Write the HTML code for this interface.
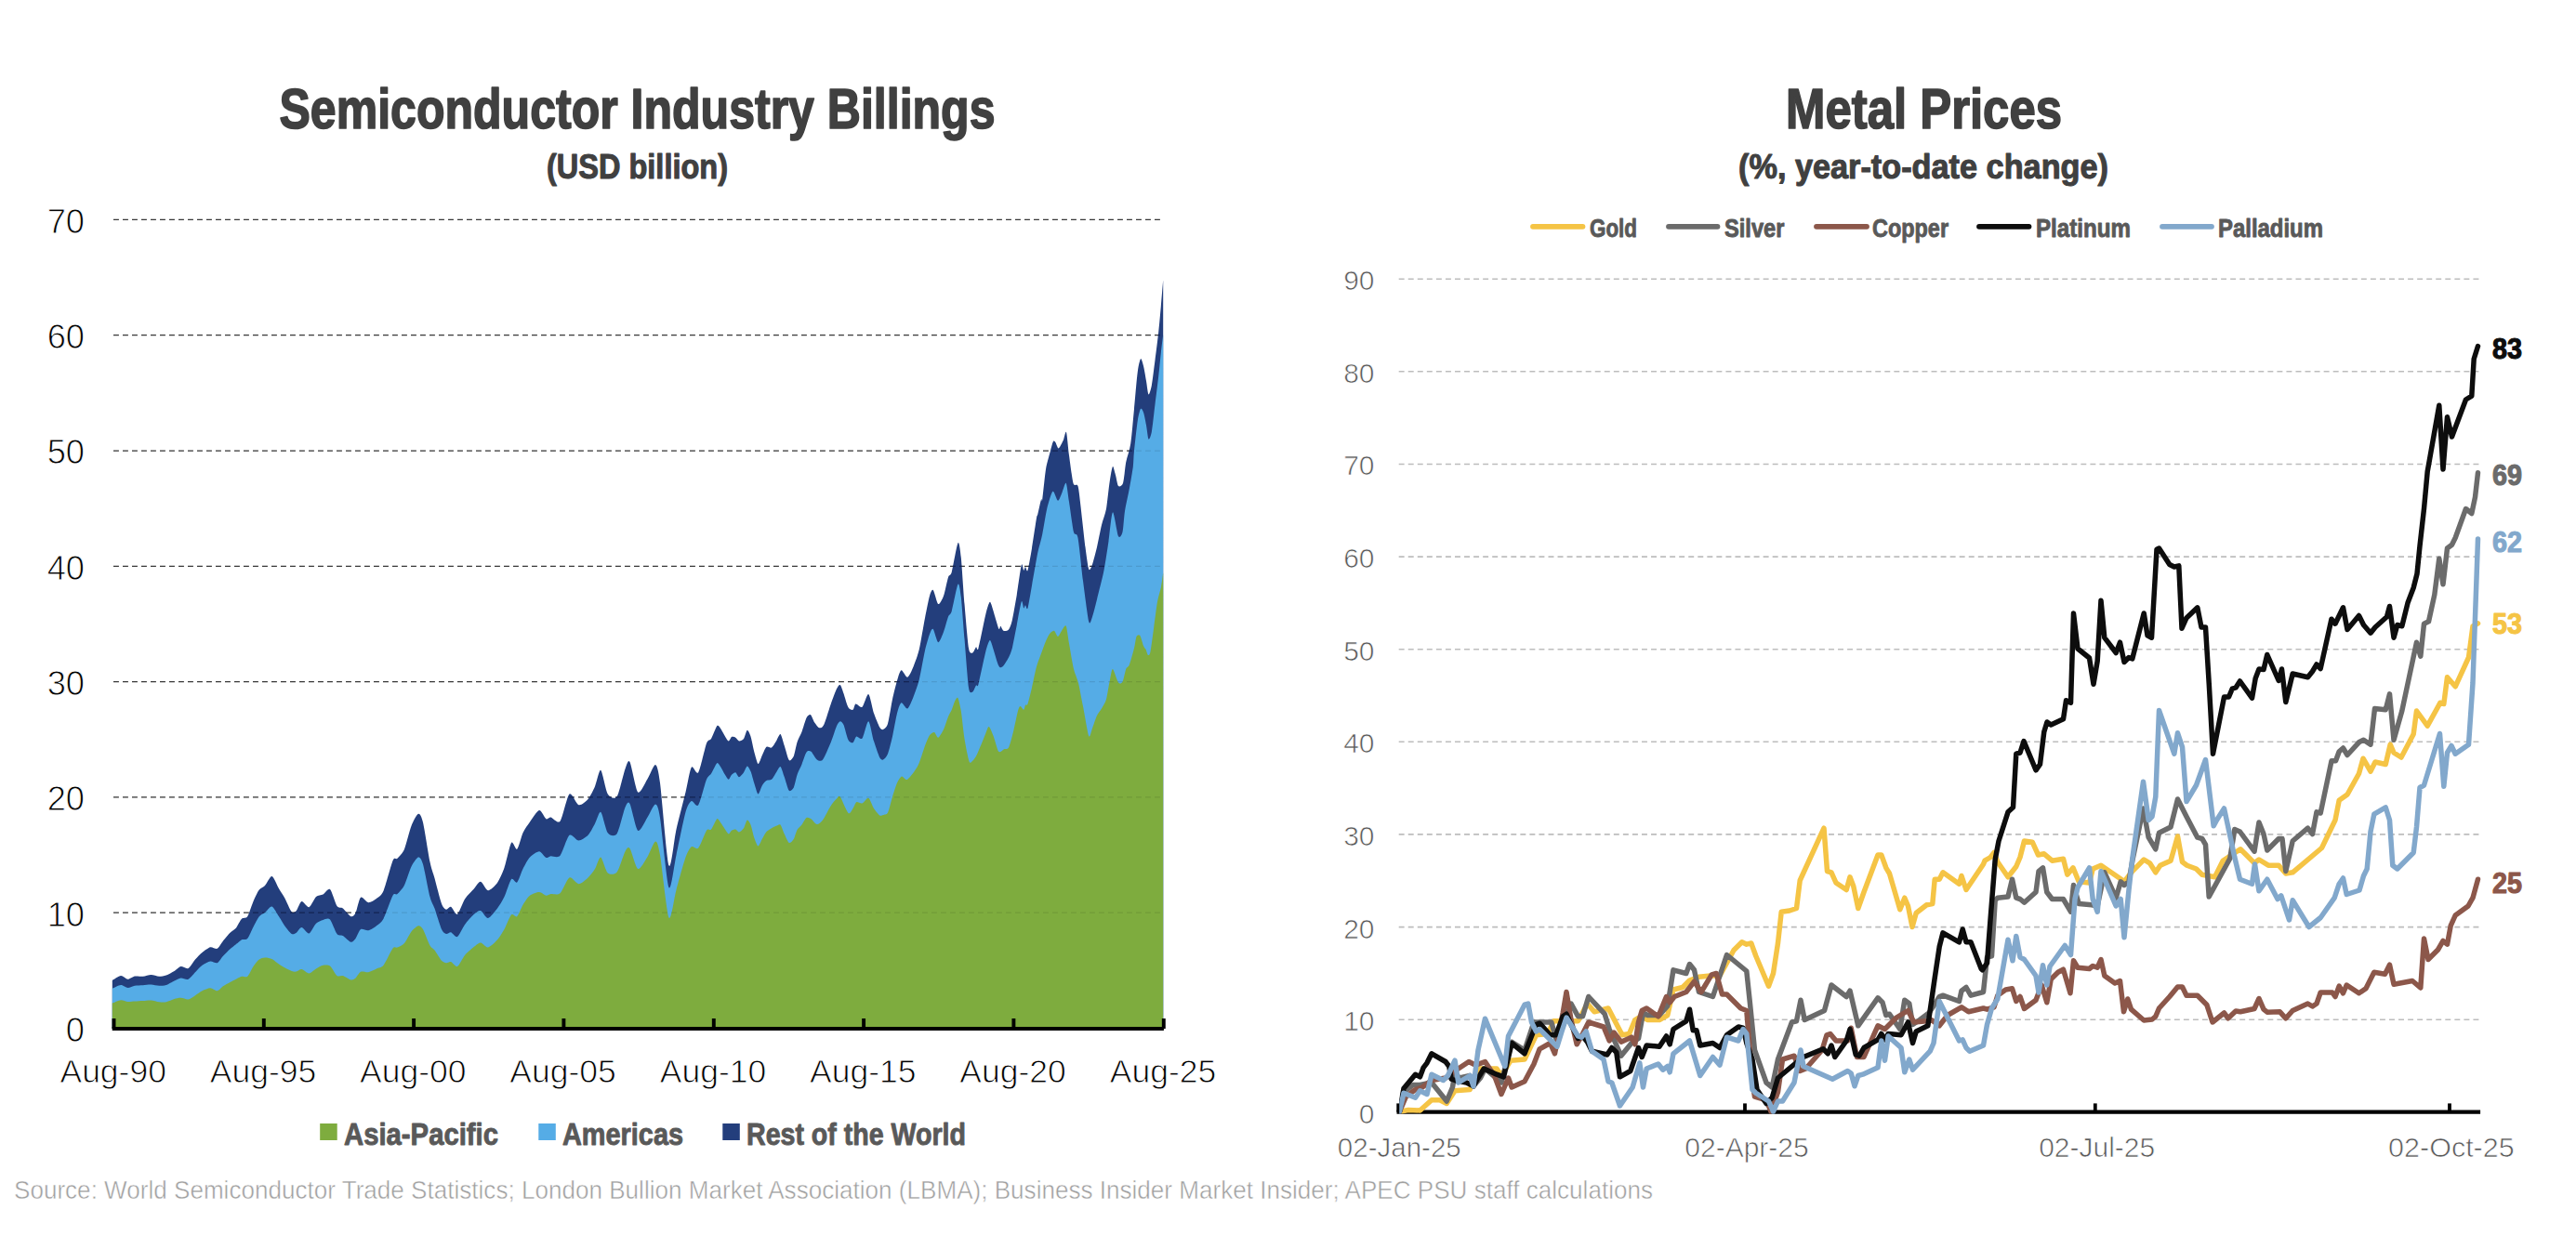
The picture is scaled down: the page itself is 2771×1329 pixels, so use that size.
<!DOCTYPE html>
<html lang="en"><head><meta charset="utf-8"><title>Semiconductor Industry Billings and Metal Prices</title>
<style>html,body{margin:0;padding:0;background:#fff}body{width:2771px;height:1329px;overflow:hidden}svg{display:block}text{font-family:"Liberation Sans", sans-serif}.t{font-weight:700;fill:#404040;stroke:#404040;stroke-width:1.7px;stroke-linejoin:round}.t2{stroke-width:1.1px}.lg{font-weight:700;fill:#595959;stroke:#595959;stroke-width:0.9px;stroke-linejoin:round}.la{fill:#000;stroke:#fff;stroke-width:0.9px}.ra{fill:#595959;stroke:#fff;stroke-width:0.7px}.src{fill:#a0a0a0;stroke:#fff;stroke-width:0.5px}.el{font-weight:700;stroke-width:1.1px;stroke-linejoin:round}</style></head><body>
<svg width="2771" height="1329" viewBox="0 0 2771 1329">
<rect width="2771" height="1329" fill="#fff"/>
<g id="left-chart">
<text class="t" x="685.5" y="138" font-size="61" text-anchor="middle" textLength="770" lengthAdjust="spacingAndGlyphs">Semiconductor Industry Billings</text>
<text class="t t2" x="685.5" y="192.2" font-size="37.5" text-anchor="middle" textLength="195" lengthAdjust="spacingAndGlyphs">(USD billion)</text>
<line x1="122" x2="1248.5" y1="982.2" y2="982.2" stroke="#404040" stroke-width="1.25" stroke-dasharray="5.9,4.1"/>
<line x1="122" x2="1248.5" y1="857.9" y2="857.9" stroke="#404040" stroke-width="1.25" stroke-dasharray="5.9,4.1"/>
<line x1="122" x2="1248.5" y1="733.6" y2="733.6" stroke="#404040" stroke-width="1.25" stroke-dasharray="5.9,4.1"/>
<line x1="122" x2="1248.5" y1="609.3" y2="609.3" stroke="#404040" stroke-width="1.25" stroke-dasharray="5.9,4.1"/>
<line x1="122" x2="1248.5" y1="485.0" y2="485.0" stroke="#404040" stroke-width="1.25" stroke-dasharray="5.9,4.1"/>
<line x1="122" x2="1248.5" y1="360.7" y2="360.7" stroke="#404040" stroke-width="1.25" stroke-dasharray="5.9,4.1"/>
<line x1="122" x2="1248.5" y1="236.4" y2="236.4" stroke="#404040" stroke-width="1.25" stroke-dasharray="5.9,4.1"/>
<path d="M120.8,1055.0 C122.0,1054.3 127.8,1050.2 130.0,1050.0 C132.2,1049.8 135.6,1053.7 137.5,1053.8 C139.4,1053.8 142.9,1050.9 145.0,1050.5 C147.1,1050.1 151.5,1050.9 153.8,1050.8 C156.0,1050.6 160.2,1049.0 162.5,1049.0 C164.8,1049.0 169.1,1050.7 171.2,1050.8 C173.4,1050.8 176.6,1050.2 178.8,1049.5 C180.9,1048.8 185.5,1046.2 187.5,1045.0 C189.5,1043.8 192.6,1040.4 194.5,1040.0 C196.4,1039.6 200.5,1043.0 202.5,1042.0 C204.5,1041.0 208.1,1034.7 210.0,1032.5 C211.9,1030.3 215.4,1026.7 217.5,1025.0 C219.6,1023.3 224.1,1019.8 226.2,1019.2 C228.4,1018.7 232.0,1021.6 233.8,1020.8 C235.5,1019.9 238.2,1014.7 240.0,1012.5 C241.8,1010.3 245.7,1005.5 247.5,1003.8 C249.3,1002.0 252.1,1000.7 253.8,998.8 C255.4,996.8 258.4,990.4 260.0,988.8 C261.6,987.1 264.6,988.7 266.2,986.2 C267.9,983.8 270.9,973.7 272.5,970.0 C274.1,966.3 277.1,959.7 278.8,957.5 C280.4,955.3 283.2,954.9 285.0,953.0 C286.8,951.1 290.6,942.6 292.5,943.0 C294.4,943.4 298.2,953.2 300.0,956.2 C301.8,959.3 304.5,963.0 306.2,966.2 C308.0,969.5 312.1,979.5 313.8,981.2 C315.4,983.0 317.4,981.5 318.8,980.0 C320.1,978.5 322.7,970.5 324.5,970.0 C326.3,969.5 330.5,976.9 332.5,976.2 C334.5,975.6 338.1,966.8 340.0,965.0 C341.9,963.2 345.6,963.5 347.5,962.5 C349.4,961.5 353.1,955.4 355.0,957.0 C356.9,958.6 360.7,972.3 362.5,975.0 C364.3,977.7 366.8,976.0 368.8,977.5 C370.7,979.0 375.7,985.6 377.5,986.2 C379.3,986.9 381.1,985.2 382.5,982.5 C383.9,979.8 386.2,967.2 388.0,965.8 C389.8,964.3 394.0,971.1 396.2,971.2 C398.5,971.4 402.9,968.6 405.0,967.0 C407.1,965.4 410.2,964.0 412.5,958.8 C414.8,953.5 420.6,930.8 422.5,926.2 C424.4,921.7 425.9,925.4 427.5,923.8 C429.1,922.1 433.1,918.3 435.0,913.8 C436.9,909.2 440.6,893.7 442.5,888.8 C444.4,883.8 448.4,876.2 450.0,875.8 C451.6,875.3 453.4,878.3 455.0,885.0 C456.6,891.7 460.9,919.7 462.5,927.5 C464.1,935.3 465.9,939.1 467.5,945.0 C469.1,950.9 473.4,968.1 475.0,972.5 C476.6,976.9 478.7,978.3 480.0,978.8 C481.3,979.2 483.4,975.1 485.0,975.8 C486.6,976.4 490.1,984.8 492.0,983.8 C493.9,982.7 497.7,971.1 500.0,967.5 C502.3,963.9 507.8,958.7 510.0,956.2 C512.2,953.8 515.0,948.5 517.0,948.8 C519.0,949.0 522.7,958.1 525.0,958.2 C527.3,958.4 532.7,953.2 535.0,950.0 C537.3,946.8 540.5,939.3 542.5,933.8 C544.5,928.2 548.2,909.6 550.0,907.0 C551.8,904.4 554.6,915.1 556.2,913.8 C557.9,912.4 560.7,900.1 562.5,896.2 C564.3,892.4 567.7,887.7 570.0,884.5 C572.3,881.3 577.7,872.4 580.0,872.0 C582.3,871.6 585.9,880.3 587.5,881.2 C589.1,882.2 590.5,879.2 592.5,879.5 C594.5,879.8 599.9,887.0 602.5,883.8 C605.1,880.5 609.9,856.8 612.5,854.5 C615.1,852.2 619.9,865.5 622.5,866.2 C625.1,867.0 630.2,862.6 632.5,860.0 C634.8,857.4 638.2,850.3 640.0,846.2 C641.8,842.2 644.5,827.7 646.2,828.8 C648.0,829.8 651.5,850.8 653.8,854.5 C656.0,858.2 661.3,860.5 663.8,857.0 C666.2,853.5 670.7,832.3 672.5,827.5 C674.3,822.7 675.7,816.8 677.5,820.0 C679.3,823.2 683.8,850.1 686.2,852.5 C688.7,854.9 693.8,842.6 696.2,838.8 C698.7,834.9 703.2,822.5 705.0,823.0 C706.8,823.5 708.1,828.4 710.0,842.5 C711.9,856.6 717.2,924.8 719.5,931.2 C721.8,937.8 725.2,902.7 727.5,892.5 C729.8,882.3 735.4,861.2 737.5,852.5 C739.6,843.8 742.0,828.5 743.8,825.8 C745.5,823.0 749.1,834.6 751.2,831.2 C753.4,827.9 758.2,804.7 760.0,800.0 C761.8,795.3 763.5,797.4 765.0,795.0 C766.5,792.6 770.0,782.7 771.2,781.2 C772.5,779.8 773.9,782.3 775.0,783.8 C776.1,785.2 778.9,790.7 780.0,792.5 C781.1,794.3 782.8,797.4 783.8,797.5 C784.7,797.6 786.0,793.5 787.0,793.0 C788.0,792.5 790.2,793.2 791.2,793.8 C792.3,794.3 793.9,797.3 795.0,797.5 C796.1,797.7 798.9,796.5 800.0,795.0 C801.1,793.5 802.8,786.1 803.8,785.8 C804.7,785.4 806.5,789.5 807.5,792.5 C808.5,795.5 810.2,804.9 811.2,808.8 C812.3,812.6 814.4,821.5 815.5,822.0 C816.6,822.5 818.8,814.9 820.0,812.5 C821.2,810.1 823.2,804.8 824.5,803.8 C825.8,802.7 828.6,805.3 830.0,804.5 C831.4,803.7 833.8,799.4 835.0,797.5 C836.2,795.6 838.4,789.4 839.5,790.0 C840.6,790.6 842.5,798.9 843.8,802.5 C845.0,806.1 847.5,816.5 848.8,818.0 C850.0,819.5 852.6,816.3 853.8,813.8 C854.9,811.2 856.4,802.2 857.5,798.8 C858.6,795.3 861.2,790.9 862.5,787.5 C863.8,784.1 866.3,774.9 867.5,772.5 C868.7,770.1 870.9,768.6 872.0,769.2 C873.1,769.9 875.0,775.7 876.2,777.5 C877.5,779.3 880.0,782.9 881.2,783.2 C882.5,783.6 884.6,783.3 886.2,780.0 C887.9,776.7 892.0,762.5 893.8,757.5 C895.5,752.5 898.7,743.9 900.0,741.2 C901.3,738.6 902.8,736.4 903.8,737.0 C904.7,737.6 906.4,743.1 907.5,746.2 C908.6,749.4 911.2,759.0 912.5,761.2 C913.8,763.5 916.5,764.2 917.5,763.8 C918.5,763.3 919.2,757.9 920.5,757.5 C921.8,757.1 925.7,762.1 927.5,760.8 C929.3,759.4 932.6,746.1 934.2,747.0 C935.9,747.9 938.4,762.9 940.0,767.5 C941.6,772.1 945.0,780.2 946.2,782.5 C947.5,784.8 948.9,785.5 950.0,785.0 C951.1,784.5 953.7,783.0 955.0,778.8 C956.3,774.5 958.7,758.5 960.0,752.5 C961.3,746.5 963.8,736.6 965.0,732.5 C966.2,728.4 968.0,721.7 969.5,721.2 C971.0,720.8 974.6,729.2 976.2,728.8 C977.9,728.3 980.9,721.4 982.5,717.5 C984.1,713.6 987.1,705.6 988.8,698.8 C990.4,691.9 993.5,672.5 995.0,665.0 C996.5,657.5 998.9,645.1 1000.0,641.2 C1001.1,637.4 1002.5,633.9 1003.8,635.0 C1005.0,636.1 1007.8,649.2 1009.2,650.0 C1010.7,650.8 1013.6,645.0 1015.0,641.2 C1016.4,637.5 1018.9,624.6 1020.0,621.2 C1021.1,617.9 1022.4,620.3 1023.8,615.5 C1025.1,610.7 1029.2,586.3 1030.5,584.2 C1031.8,582.2 1032.8,591.5 1033.8,600.0 C1034.7,608.5 1036.4,637.3 1037.5,650.0 C1038.6,662.7 1040.9,690.7 1042.0,697.5 C1043.1,704.3 1045.2,702.7 1046.2,702.5 C1047.3,702.3 1049.2,696.9 1050.0,696.2 C1050.8,695.6 1051.2,701.9 1052.5,697.5 C1053.8,693.1 1058.5,668.7 1060.0,662.5 C1061.5,656.3 1062.9,651.1 1063.8,649.5 C1064.6,647.9 1064.9,646.5 1066.2,650.0 C1067.6,653.5 1073.0,673.2 1074.2,676.2 C1075.5,679.3 1075.6,673.4 1076.2,673.8 C1076.9,674.1 1078.4,678.3 1079.5,678.8 C1080.6,679.2 1083.8,679.0 1085.0,677.5 C1086.2,676.0 1087.6,672.4 1088.8,667.5 C1089.9,662.6 1092.5,647.7 1093.8,640.0 C1095.0,632.3 1097.8,611.4 1098.8,608.0 C1099.7,604.6 1100.7,613.5 1101.2,613.8 C1101.8,614.0 1102.4,610.0 1103.0,610.0 C1103.6,610.0 1104.6,616.4 1105.5,613.8 C1106.4,611.1 1108.8,597.3 1110.0,590.0 C1111.2,582.7 1114.2,562.2 1115.0,557.5 C1115.8,552.8 1115.6,556.4 1116.2,553.8 C1116.9,551.1 1119.3,539.6 1120.0,537.5 C1120.7,535.4 1120.6,541.7 1121.2,537.5 C1121.9,533.3 1123.9,511.8 1125.0,505.0 C1126.1,498.2 1129.0,488.9 1130.0,485.0 C1131.0,481.1 1132.3,476.1 1133.0,475.0 C1133.7,473.9 1134.8,475.3 1135.5,476.2 C1136.2,477.2 1137.7,482.8 1138.8,482.5 C1139.8,482.2 1142.7,476.0 1143.8,473.8 C1144.8,471.5 1146.2,462.9 1147.0,465.0 C1147.8,467.1 1149.0,482.9 1150.0,490.0 C1151.0,497.1 1153.3,515.7 1154.5,520.0 C1155.7,524.3 1158.5,519.8 1159.5,523.0 C1160.5,526.2 1161.5,536.5 1162.5,545.0 C1163.5,553.5 1166.4,580.0 1167.5,588.8 C1168.6,597.5 1170.3,610.1 1171.2,612.5 C1172.2,614.9 1173.9,610.6 1175.0,607.5 C1176.1,604.4 1178.7,594.3 1180.0,588.8 C1181.3,583.2 1183.7,570.4 1185.0,565.0 C1186.3,559.6 1188.9,553.7 1190.0,547.5 C1191.1,541.3 1192.8,523.4 1193.8,517.5 C1194.7,511.6 1196.2,502.8 1197.0,502.0 C1197.8,501.2 1199.2,508.5 1200.0,511.2 C1200.8,514.0 1202.0,521.9 1203.0,523.0 C1204.0,524.1 1206.9,523.3 1208.0,520.0 C1209.1,516.7 1210.2,503.0 1211.2,497.5 C1212.3,492.0 1215.1,485.0 1216.2,477.5 C1217.4,470.0 1219.0,450.1 1220.0,440.0 C1221.0,429.9 1222.8,407.0 1223.8,400.0 C1224.7,393.0 1226.2,387.1 1227.0,386.2 C1227.8,385.4 1229.2,390.7 1230.0,393.8 C1230.8,396.8 1232.3,406.0 1233.0,410.0 C1233.7,414.0 1234.8,423.9 1235.5,424.5 C1236.2,425.1 1237.8,419.8 1238.8,415.0 C1239.7,410.2 1241.5,395.0 1242.5,387.5 C1243.5,380.0 1245.4,365.0 1246.2,357.5 C1247.1,350.0 1248.1,337.3 1248.8,330.0 C1249.4,322.7 1250.9,305.0 1251.2,301.2 L1251.2,1106.5 L120.8,1106.5 Z" fill="#233e7c"/>
<clipPath id="ctop"><path d="M120.8,1055.0 C122.0,1054.3 127.8,1050.2 130.0,1050.0 C132.2,1049.8 135.6,1053.7 137.5,1053.8 C139.4,1053.8 142.9,1050.9 145.0,1050.5 C147.1,1050.1 151.5,1050.9 153.8,1050.8 C156.0,1050.6 160.2,1049.0 162.5,1049.0 C164.8,1049.0 169.1,1050.7 171.2,1050.8 C173.4,1050.8 176.6,1050.2 178.8,1049.5 C180.9,1048.8 185.5,1046.2 187.5,1045.0 C189.5,1043.8 192.6,1040.4 194.5,1040.0 C196.4,1039.6 200.5,1043.0 202.5,1042.0 C204.5,1041.0 208.1,1034.7 210.0,1032.5 C211.9,1030.3 215.4,1026.7 217.5,1025.0 C219.6,1023.3 224.1,1019.8 226.2,1019.2 C228.4,1018.7 232.0,1021.6 233.8,1020.8 C235.5,1019.9 238.2,1014.7 240.0,1012.5 C241.8,1010.3 245.7,1005.5 247.5,1003.8 C249.3,1002.0 252.1,1000.7 253.8,998.8 C255.4,996.8 258.4,990.4 260.0,988.8 C261.6,987.1 264.6,988.7 266.2,986.2 C267.9,983.8 270.9,973.7 272.5,970.0 C274.1,966.3 277.1,959.7 278.8,957.5 C280.4,955.3 283.2,954.9 285.0,953.0 C286.8,951.1 290.6,942.6 292.5,943.0 C294.4,943.4 298.2,953.2 300.0,956.2 C301.8,959.3 304.5,963.0 306.2,966.2 C308.0,969.5 312.1,979.5 313.8,981.2 C315.4,983.0 317.4,981.5 318.8,980.0 C320.1,978.5 322.7,970.5 324.5,970.0 C326.3,969.5 330.5,976.9 332.5,976.2 C334.5,975.6 338.1,966.8 340.0,965.0 C341.9,963.2 345.6,963.5 347.5,962.5 C349.4,961.5 353.1,955.4 355.0,957.0 C356.9,958.6 360.7,972.3 362.5,975.0 C364.3,977.7 366.8,976.0 368.8,977.5 C370.7,979.0 375.7,985.6 377.5,986.2 C379.3,986.9 381.1,985.2 382.5,982.5 C383.9,979.8 386.2,967.2 388.0,965.8 C389.8,964.3 394.0,971.1 396.2,971.2 C398.5,971.4 402.9,968.6 405.0,967.0 C407.1,965.4 410.2,964.0 412.5,958.8 C414.8,953.5 420.6,930.8 422.5,926.2 C424.4,921.7 425.9,925.4 427.5,923.8 C429.1,922.1 433.1,918.3 435.0,913.8 C436.9,909.2 440.6,893.7 442.5,888.8 C444.4,883.8 448.4,876.2 450.0,875.8 C451.6,875.3 453.4,878.3 455.0,885.0 C456.6,891.7 460.9,919.7 462.5,927.5 C464.1,935.3 465.9,939.1 467.5,945.0 C469.1,950.9 473.4,968.1 475.0,972.5 C476.6,976.9 478.7,978.3 480.0,978.8 C481.3,979.2 483.4,975.1 485.0,975.8 C486.6,976.4 490.1,984.8 492.0,983.8 C493.9,982.7 497.7,971.1 500.0,967.5 C502.3,963.9 507.8,958.7 510.0,956.2 C512.2,953.8 515.0,948.5 517.0,948.8 C519.0,949.0 522.7,958.1 525.0,958.2 C527.3,958.4 532.7,953.2 535.0,950.0 C537.3,946.8 540.5,939.3 542.5,933.8 C544.5,928.2 548.2,909.6 550.0,907.0 C551.8,904.4 554.6,915.1 556.2,913.8 C557.9,912.4 560.7,900.1 562.5,896.2 C564.3,892.4 567.7,887.7 570.0,884.5 C572.3,881.3 577.7,872.4 580.0,872.0 C582.3,871.6 585.9,880.3 587.5,881.2 C589.1,882.2 590.5,879.2 592.5,879.5 C594.5,879.8 599.9,887.0 602.5,883.8 C605.1,880.5 609.9,856.8 612.5,854.5 C615.1,852.2 619.9,865.5 622.5,866.2 C625.1,867.0 630.2,862.6 632.5,860.0 C634.8,857.4 638.2,850.3 640.0,846.2 C641.8,842.2 644.5,827.7 646.2,828.8 C648.0,829.8 651.5,850.8 653.8,854.5 C656.0,858.2 661.3,860.5 663.8,857.0 C666.2,853.5 670.7,832.3 672.5,827.5 C674.3,822.7 675.7,816.8 677.5,820.0 C679.3,823.2 683.8,850.1 686.2,852.5 C688.7,854.9 693.8,842.6 696.2,838.8 C698.7,834.9 703.2,822.5 705.0,823.0 C706.8,823.5 708.1,828.4 710.0,842.5 C711.9,856.6 717.2,924.8 719.5,931.2 C721.8,937.8 725.2,902.7 727.5,892.5 C729.8,882.3 735.4,861.2 737.5,852.5 C739.6,843.8 742.0,828.5 743.8,825.8 C745.5,823.0 749.1,834.6 751.2,831.2 C753.4,827.9 758.2,804.7 760.0,800.0 C761.8,795.3 763.5,797.4 765.0,795.0 C766.5,792.6 770.0,782.7 771.2,781.2 C772.5,779.8 773.9,782.3 775.0,783.8 C776.1,785.2 778.9,790.7 780.0,792.5 C781.1,794.3 782.8,797.4 783.8,797.5 C784.7,797.6 786.0,793.5 787.0,793.0 C788.0,792.5 790.2,793.2 791.2,793.8 C792.3,794.3 793.9,797.3 795.0,797.5 C796.1,797.7 798.9,796.5 800.0,795.0 C801.1,793.5 802.8,786.1 803.8,785.8 C804.7,785.4 806.5,789.5 807.5,792.5 C808.5,795.5 810.2,804.9 811.2,808.8 C812.3,812.6 814.4,821.5 815.5,822.0 C816.6,822.5 818.8,814.9 820.0,812.5 C821.2,810.1 823.2,804.8 824.5,803.8 C825.8,802.7 828.6,805.3 830.0,804.5 C831.4,803.7 833.8,799.4 835.0,797.5 C836.2,795.6 838.4,789.4 839.5,790.0 C840.6,790.6 842.5,798.9 843.8,802.5 C845.0,806.1 847.5,816.5 848.8,818.0 C850.0,819.5 852.6,816.3 853.8,813.8 C854.9,811.2 856.4,802.2 857.5,798.8 C858.6,795.3 861.2,790.9 862.5,787.5 C863.8,784.1 866.3,774.9 867.5,772.5 C868.7,770.1 870.9,768.6 872.0,769.2 C873.1,769.9 875.0,775.7 876.2,777.5 C877.5,779.3 880.0,782.9 881.2,783.2 C882.5,783.6 884.6,783.3 886.2,780.0 C887.9,776.7 892.0,762.5 893.8,757.5 C895.5,752.5 898.7,743.9 900.0,741.2 C901.3,738.6 902.8,736.4 903.8,737.0 C904.7,737.6 906.4,743.1 907.5,746.2 C908.6,749.4 911.2,759.0 912.5,761.2 C913.8,763.5 916.5,764.2 917.5,763.8 C918.5,763.3 919.2,757.9 920.5,757.5 C921.8,757.1 925.7,762.1 927.5,760.8 C929.3,759.4 932.6,746.1 934.2,747.0 C935.9,747.9 938.4,762.9 940.0,767.5 C941.6,772.1 945.0,780.2 946.2,782.5 C947.5,784.8 948.9,785.5 950.0,785.0 C951.1,784.5 953.7,783.0 955.0,778.8 C956.3,774.5 958.7,758.5 960.0,752.5 C961.3,746.5 963.8,736.6 965.0,732.5 C966.2,728.4 968.0,721.7 969.5,721.2 C971.0,720.8 974.6,729.2 976.2,728.8 C977.9,728.3 980.9,721.4 982.5,717.5 C984.1,713.6 987.1,705.6 988.8,698.8 C990.4,691.9 993.5,672.5 995.0,665.0 C996.5,657.5 998.9,645.1 1000.0,641.2 C1001.1,637.4 1002.5,633.9 1003.8,635.0 C1005.0,636.1 1007.8,649.2 1009.2,650.0 C1010.7,650.8 1013.6,645.0 1015.0,641.2 C1016.4,637.5 1018.9,624.6 1020.0,621.2 C1021.1,617.9 1022.4,620.3 1023.8,615.5 C1025.1,610.7 1029.2,586.3 1030.5,584.2 C1031.8,582.2 1032.8,591.5 1033.8,600.0 C1034.7,608.5 1036.4,637.3 1037.5,650.0 C1038.6,662.7 1040.9,690.7 1042.0,697.5 C1043.1,704.3 1045.2,702.7 1046.2,702.5 C1047.3,702.3 1049.2,696.9 1050.0,696.2 C1050.8,695.6 1051.2,701.9 1052.5,697.5 C1053.8,693.1 1058.5,668.7 1060.0,662.5 C1061.5,656.3 1062.9,651.1 1063.8,649.5 C1064.6,647.9 1064.9,646.5 1066.2,650.0 C1067.6,653.5 1073.0,673.2 1074.2,676.2 C1075.5,679.3 1075.6,673.4 1076.2,673.8 C1076.9,674.1 1078.4,678.3 1079.5,678.8 C1080.6,679.2 1083.8,679.0 1085.0,677.5 C1086.2,676.0 1087.6,672.4 1088.8,667.5 C1089.9,662.6 1092.5,647.7 1093.8,640.0 C1095.0,632.3 1097.8,611.4 1098.8,608.0 C1099.7,604.6 1100.7,613.5 1101.2,613.8 C1101.8,614.0 1102.4,610.0 1103.0,610.0 C1103.6,610.0 1104.6,616.4 1105.5,613.8 C1106.4,611.1 1108.8,597.3 1110.0,590.0 C1111.2,582.7 1114.2,562.2 1115.0,557.5 C1115.8,552.8 1115.6,556.4 1116.2,553.8 C1116.9,551.1 1119.3,539.6 1120.0,537.5 C1120.7,535.4 1120.6,541.7 1121.2,537.5 C1121.9,533.3 1123.9,511.8 1125.0,505.0 C1126.1,498.2 1129.0,488.9 1130.0,485.0 C1131.0,481.1 1132.3,476.1 1133.0,475.0 C1133.7,473.9 1134.8,475.3 1135.5,476.2 C1136.2,477.2 1137.7,482.8 1138.8,482.5 C1139.8,482.2 1142.7,476.0 1143.8,473.8 C1144.8,471.5 1146.2,462.9 1147.0,465.0 C1147.8,467.1 1149.0,482.9 1150.0,490.0 C1151.0,497.1 1153.3,515.7 1154.5,520.0 C1155.7,524.3 1158.5,519.8 1159.5,523.0 C1160.5,526.2 1161.5,536.5 1162.5,545.0 C1163.5,553.5 1166.4,580.0 1167.5,588.8 C1168.6,597.5 1170.3,610.1 1171.2,612.5 C1172.2,614.9 1173.9,610.6 1175.0,607.5 C1176.1,604.4 1178.7,594.3 1180.0,588.8 C1181.3,583.2 1183.7,570.4 1185.0,565.0 C1186.3,559.6 1188.9,553.7 1190.0,547.5 C1191.1,541.3 1192.8,523.4 1193.8,517.5 C1194.7,511.6 1196.2,502.8 1197.0,502.0 C1197.8,501.2 1199.2,508.5 1200.0,511.2 C1200.8,514.0 1202.0,521.9 1203.0,523.0 C1204.0,524.1 1206.9,523.3 1208.0,520.0 C1209.1,516.7 1210.2,503.0 1211.2,497.5 C1212.3,492.0 1215.1,485.0 1216.2,477.5 C1217.4,470.0 1219.0,450.1 1220.0,440.0 C1221.0,429.9 1222.8,407.0 1223.8,400.0 C1224.7,393.0 1226.2,387.1 1227.0,386.2 C1227.8,385.4 1229.2,390.7 1230.0,393.8 C1230.8,396.8 1232.3,406.0 1233.0,410.0 C1233.7,414.0 1234.8,423.9 1235.5,424.5 C1236.2,425.1 1237.8,419.8 1238.8,415.0 C1239.7,410.2 1241.5,395.0 1242.5,387.5 C1243.5,380.0 1245.4,365.0 1246.2,357.5 C1247.1,350.0 1248.1,337.3 1248.8,330.0 C1249.4,322.7 1250.9,305.0 1251.2,301.2 L1251.2,1106.5 L120.8,1106.5 Z"/></clipPath>
<g clip-path="url(#ctop)">
<line x1="122" x2="1248.5" y1="982.2" y2="982.2" stroke="#16285c" stroke-width="1.25" stroke-dasharray="5.9,4.1"/>
<line x1="122" x2="1248.5" y1="857.9" y2="857.9" stroke="#16285c" stroke-width="1.25" stroke-dasharray="5.9,4.1"/>
<line x1="122" x2="1248.5" y1="733.6" y2="733.6" stroke="#16285c" stroke-width="1.25" stroke-dasharray="5.9,4.1"/>
<line x1="122" x2="1248.5" y1="609.3" y2="609.3" stroke="#16285c" stroke-width="1.25" stroke-dasharray="5.9,4.1"/>
<line x1="122" x2="1248.5" y1="485.0" y2="485.0" stroke="#16285c" stroke-width="1.25" stroke-dasharray="5.9,4.1"/>
<line x1="122" x2="1248.5" y1="360.7" y2="360.7" stroke="#16285c" stroke-width="1.25" stroke-dasharray="5.9,4.1"/>
<line x1="122" x2="1248.5" y1="236.4" y2="236.4" stroke="#16285c" stroke-width="1.25" stroke-dasharray="5.9,4.1"/>
</g>
<path d="M120.8,1063.8 C122.0,1063.3 127.8,1060.1 130.0,1060.0 C132.2,1059.9 135.6,1062.9 137.5,1063.0 C139.4,1063.1 142.9,1061.1 145.0,1060.8 C147.1,1060.4 151.5,1060.4 153.8,1060.2 C156.0,1060.1 160.2,1059.4 162.5,1059.5 C164.8,1059.6 169.1,1060.7 171.2,1060.8 C173.4,1060.8 176.6,1060.7 178.8,1060.0 C180.9,1059.3 185.5,1056.5 187.5,1055.5 C189.5,1054.5 192.6,1052.7 194.5,1052.5 C196.4,1052.3 200.5,1054.6 202.5,1053.8 C204.5,1052.9 208.1,1048.2 210.0,1046.2 C211.9,1044.3 215.4,1040.3 217.5,1038.8 C219.6,1037.2 224.1,1034.8 226.2,1034.5 C228.4,1034.2 232.0,1037.0 233.8,1036.2 C235.5,1035.5 238.2,1030.7 240.0,1028.8 C241.8,1026.8 245.7,1022.9 247.5,1021.2 C249.3,1019.6 252.1,1017.5 253.8,1016.2 C255.4,1015.0 258.4,1012.1 260.0,1011.2 C261.6,1010.4 264.6,1011.8 266.2,1010.0 C267.9,1008.2 270.9,1000.6 272.5,997.5 C274.1,994.4 277.1,988.3 278.8,986.2 C280.4,984.2 283.2,983.4 285.0,982.0 C286.8,980.6 290.6,974.9 292.5,975.5 C294.4,976.1 298.2,983.6 300.0,986.2 C301.8,988.9 304.5,993.8 306.2,996.2 C308.0,998.7 312.1,1004.0 313.8,1005.0 C315.4,1006.0 317.4,1004.7 318.8,1003.8 C320.1,1002.8 322.7,997.9 324.5,998.0 C326.3,998.1 330.5,1005.1 332.5,1004.5 C334.5,1003.9 338.1,995.6 340.0,993.8 C341.9,991.9 345.6,990.6 347.5,990.0 C349.4,989.4 353.1,987.5 355.0,989.5 C356.9,991.5 360.7,1002.7 362.5,1005.0 C364.3,1007.3 366.8,1005.9 368.8,1007.0 C370.7,1008.1 375.7,1013.4 377.5,1013.8 C379.3,1014.1 381.1,1011.8 382.5,1010.0 C383.9,1008.2 386.2,1001.1 388.0,1000.0 C389.8,998.9 394.0,1001.7 396.2,1001.2 C398.5,1000.8 402.9,997.9 405.0,996.2 C407.1,994.6 410.2,993.0 412.5,988.8 C414.8,984.5 420.6,967.2 422.5,963.8 C424.4,960.3 425.9,963.5 427.5,962.0 C429.1,960.5 433.1,956.3 435.0,952.5 C436.9,948.7 440.6,936.4 442.5,932.5 C444.4,928.6 448.4,922.8 450.0,922.5 C451.6,922.2 453.4,924.5 455.0,930.0 C456.6,935.5 460.9,958.8 462.5,965.0 C464.1,971.2 465.9,973.0 467.5,977.5 C469.1,982.0 473.4,996.4 475.0,1000.0 C476.6,1003.6 478.7,1004.6 480.0,1005.0 C481.3,1005.4 483.4,1002.9 485.0,1003.2 C486.6,1003.6 490.1,1009.1 492.0,1008.0 C493.9,1006.9 497.7,998.2 500.0,995.0 C502.3,991.8 507.8,985.7 510.0,983.8 C512.2,981.8 515.0,979.4 517.0,980.0 C519.0,980.6 522.7,988.3 525.0,988.0 C527.3,987.7 532.7,980.5 535.0,977.5 C537.3,974.5 540.5,969.1 542.5,965.0 C544.5,960.9 548.2,948.3 550.0,946.2 C551.8,944.2 554.6,951.0 556.2,949.5 C557.9,948.0 560.7,938.5 562.5,935.0 C564.3,931.5 567.7,924.9 570.0,922.5 C572.3,920.1 577.7,916.2 580.0,916.2 C582.3,916.3 585.9,922.4 587.5,923.0 C589.1,923.6 590.5,921.5 592.5,921.2 C594.5,921.0 599.9,923.7 602.5,920.8 C605.1,917.8 609.9,900.9 612.5,898.8 C615.1,896.6 619.9,904.5 622.5,904.5 C625.1,904.5 630.2,901.1 632.5,898.8 C634.8,896.4 638.2,889.5 640.0,886.2 C641.8,883.0 644.5,872.5 646.2,873.8 C648.0,875.0 651.5,893.2 653.8,896.2 C656.0,899.3 661.3,900.6 663.8,897.0 C666.2,893.4 670.7,872.9 672.5,868.8 C674.3,864.6 675.7,861.8 677.5,865.0 C679.3,868.2 683.8,891.8 686.2,893.8 C688.7,895.7 693.8,883.7 696.2,880.0 C698.7,876.3 703.2,865.5 705.0,865.5 C706.8,865.5 708.1,868.4 710.0,880.0 C711.9,891.6 717.2,949.8 719.5,955.0 C721.8,960.2 725.2,930.6 727.5,920.0 C729.8,909.4 735.4,881.3 737.5,873.8 C739.6,866.2 742.0,863.0 743.8,862.0 C745.5,861.0 749.1,869.3 751.2,866.2 C753.4,863.2 758.2,843.1 760.0,838.8 C761.8,834.4 763.5,834.8 765.0,832.5 C766.5,830.2 770.0,822.2 771.2,821.2 C772.5,820.3 773.9,823.4 775.0,825.0 C776.1,826.6 778.9,832.0 780.0,833.8 C781.1,835.5 782.8,838.8 783.8,838.8 C784.7,838.8 786.0,834.7 787.0,833.8 C788.0,832.8 790.2,830.9 791.2,831.2 C792.3,831.6 793.9,836.2 795.0,836.2 C796.1,836.2 798.9,832.8 800.0,831.2 C801.1,829.7 802.8,824.7 803.8,824.5 C804.7,824.3 806.5,827.7 807.5,830.0 C808.5,832.3 810.2,839.3 811.2,842.5 C812.3,845.7 814.4,854.2 815.5,854.5 C816.6,854.8 818.8,846.9 820.0,845.0 C821.2,843.1 823.2,840.8 824.5,840.0 C825.8,839.2 828.6,839.9 830.0,838.8 C831.4,837.6 833.8,833.0 835.0,831.2 C836.2,829.5 838.4,824.4 839.5,825.0 C840.6,825.6 842.5,832.9 843.8,836.2 C845.0,839.6 847.5,849.3 848.8,850.8 C850.0,852.2 852.6,849.7 853.8,847.5 C854.9,845.3 856.4,837.0 857.5,833.8 C858.6,830.5 861.2,825.7 862.5,822.5 C863.8,819.3 866.2,811.3 867.5,809.5 C868.8,807.7 871.0,807.7 872.5,808.8 C874.0,809.8 877.1,816.4 878.8,817.5 C880.4,818.6 883.0,819.9 885.0,817.5 C887.0,815.1 891.8,803.5 893.8,798.8 C895.7,794.0 898.7,784.2 900.0,781.2 C901.3,778.3 902.8,776.4 903.8,776.2 C904.7,776.1 906.4,777.4 907.5,780.0 C908.6,782.6 911.2,793.7 912.5,796.2 C913.8,798.8 916.4,799.7 917.5,799.2 C918.6,798.8 920.0,793.1 921.2,792.5 C922.5,791.9 925.8,796.6 927.5,794.5 C929.2,792.4 932.6,775.9 934.2,776.2 C935.9,776.6 938.4,792.5 940.0,797.5 C941.6,802.5 945.0,812.4 946.2,815.0 C947.5,817.6 948.9,818.0 950.0,817.5 C951.1,817.0 953.7,814.5 955.0,811.2 C956.3,808.0 958.7,798.2 960.0,792.5 C961.3,786.8 963.8,772.2 965.0,767.5 C966.2,762.8 968.0,756.9 969.5,756.2 C971.0,755.6 974.6,763.3 976.2,762.5 C977.9,761.7 980.9,754.1 982.5,750.0 C984.1,745.9 987.1,737.8 988.8,731.2 C990.4,724.8 993.5,706.3 995.0,700.0 C996.5,693.7 998.9,685.5 1000.0,682.5 C1001.1,679.5 1002.5,675.9 1003.8,677.0 C1005.0,678.1 1007.8,690.9 1009.2,691.2 C1010.7,691.6 1013.6,683.6 1015.0,680.0 C1016.4,676.4 1018.9,666.7 1020.0,663.8 C1021.1,660.8 1022.4,662.0 1023.8,657.5 C1025.1,653.0 1029.2,630.7 1030.5,628.8 C1031.8,626.8 1032.8,634.9 1033.8,642.5 C1034.7,650.1 1036.4,674.8 1037.5,687.5 C1038.6,700.2 1040.9,732.6 1042.0,740.0 C1043.1,747.4 1045.2,744.8 1046.2,744.5 C1047.3,744.2 1049.2,738.6 1050.0,737.5 C1050.8,736.4 1051.2,740.8 1052.5,736.2 C1053.8,731.7 1058.5,708.4 1060.0,702.5 C1061.5,696.6 1062.9,692.0 1063.8,690.5 C1064.6,689.0 1064.9,687.9 1066.2,691.2 C1067.6,694.6 1072.6,712.9 1074.2,716.2 C1075.9,719.6 1077.4,718.1 1078.8,717.0 C1080.1,715.9 1083.7,710.0 1085.0,707.5 C1086.3,705.0 1087.6,702.0 1088.8,697.5 C1089.9,693.0 1092.5,679.0 1093.8,672.5 C1095.0,666.0 1097.8,649.8 1098.8,647.5 C1099.7,645.2 1100.7,654.0 1101.2,654.5 C1101.8,655.0 1102.4,651.2 1103.0,651.2 C1103.6,651.2 1104.6,657.3 1105.5,654.5 C1106.4,651.7 1108.6,637.7 1110.0,630.0 C1111.4,622.3 1114.8,602.1 1116.2,595.0 C1117.7,587.9 1120.0,581.2 1121.2,575.0 C1122.5,568.8 1124.8,553.5 1126.2,547.5 C1127.7,541.5 1131.0,529.9 1132.5,528.8 C1134.0,527.6 1136.7,538.6 1138.0,538.8 C1139.3,538.9 1141.4,532.4 1142.5,530.0 C1143.6,527.6 1145.8,518.7 1146.8,520.0 C1147.7,521.3 1148.9,533.2 1150.0,540.0 C1151.1,546.8 1153.8,567.5 1155.0,572.5 C1156.2,577.5 1158.2,571.9 1159.5,578.8 C1160.8,585.6 1163.5,613.3 1165.0,625.0 C1166.5,636.7 1170.0,663.7 1171.2,668.8 C1172.5,673.8 1173.9,666.8 1175.0,663.8 C1176.1,660.7 1178.4,651.5 1180.0,645.0 C1181.6,638.5 1185.9,621.9 1187.5,613.8 C1189.1,605.6 1191.3,590.6 1192.5,582.5 C1193.7,574.4 1195.6,552.0 1197.0,551.2 C1198.4,550.5 1201.6,574.2 1203.0,577.0 C1204.4,579.8 1206.6,576.0 1207.5,572.5 C1208.4,569.0 1209.0,556.2 1210.0,550.0 C1211.0,543.8 1213.9,531.2 1215.0,525.0 C1216.1,518.8 1218.1,507.7 1218.8,502.5 C1219.4,497.3 1219.3,491.5 1220.0,485.0 C1220.7,478.5 1222.8,458.4 1223.8,452.5 C1224.7,446.6 1226.2,441.1 1227.0,440.0 C1227.8,438.9 1229.2,441.5 1230.0,443.8 C1230.8,446.0 1232.3,453.8 1233.0,457.5 C1233.7,461.2 1234.8,471.5 1235.5,472.5 C1236.2,473.5 1237.8,469.9 1238.8,465.0 C1239.7,460.1 1241.5,442.8 1242.5,435.0 C1243.5,427.2 1245.4,412.1 1246.2,405.0 C1247.1,397.9 1248.1,385.9 1248.8,380.0 C1249.4,374.1 1250.9,362.6 1251.2,360.0 L1251.2,1106.5 L120.8,1106.5 Z" fill="#55ace6"/>
<path d="M120.8,1079.5 C122.0,1079.1 127.8,1076.4 130.0,1076.2 C132.2,1076.1 135.6,1077.8 137.5,1078.0 C139.4,1078.2 142.9,1077.6 145.0,1077.5 C147.1,1077.4 151.5,1077.1 153.8,1077.0 C156.0,1076.9 160.2,1076.3 162.5,1076.5 C164.8,1076.7 169.1,1078.0 171.2,1078.2 C173.4,1078.5 176.6,1078.7 178.8,1078.2 C180.9,1077.8 185.5,1075.6 187.5,1075.0 C189.5,1074.4 192.6,1073.7 194.5,1073.8 C196.4,1073.8 200.5,1075.8 202.5,1075.5 C204.5,1075.2 208.1,1072.5 210.0,1071.2 C211.9,1070.0 215.4,1067.3 217.5,1066.2 C219.6,1065.2 224.1,1063.2 226.2,1063.2 C228.4,1063.2 232.0,1066.5 233.8,1066.2 C235.5,1066.0 238.2,1062.5 240.0,1061.2 C241.8,1060.0 245.7,1058.0 247.5,1057.0 C249.3,1056.0 252.1,1054.6 253.8,1053.8 C255.4,1052.9 258.4,1051.1 260.0,1050.8 C261.6,1050.4 264.6,1052.1 266.2,1050.8 C267.9,1049.4 270.9,1042.4 272.5,1040.0 C274.1,1037.6 277.1,1033.7 278.8,1032.5 C280.4,1031.3 283.2,1030.6 285.0,1030.5 C286.8,1030.4 290.6,1031.1 292.5,1032.0 C294.4,1032.9 298.2,1036.3 300.0,1037.5 C301.8,1038.7 304.5,1040.3 306.2,1041.2 C308.0,1042.2 312.1,1044.4 313.8,1045.0 C315.4,1045.6 317.4,1045.8 318.8,1045.5 C320.1,1045.2 322.7,1042.7 324.5,1043.0 C326.3,1043.3 330.5,1047.6 332.5,1047.5 C334.5,1047.4 338.1,1043.6 340.0,1042.5 C341.9,1041.4 345.6,1039.1 347.5,1038.8 C349.4,1038.4 353.1,1038.0 355.0,1039.5 C356.9,1041.0 360.7,1048.6 362.5,1050.0 C364.3,1051.4 366.8,1049.4 368.8,1050.0 C370.7,1050.6 375.7,1054.2 377.5,1054.5 C379.3,1054.8 381.1,1053.6 382.5,1052.5 C383.9,1051.4 386.2,1046.6 388.0,1045.8 C389.8,1044.9 394.0,1046.7 396.2,1046.2 C398.5,1045.8 402.9,1043.5 405.0,1042.5 C407.1,1041.5 410.2,1041.6 412.5,1038.8 C414.8,1035.9 420.6,1023.0 422.5,1020.5 C424.4,1018.0 425.9,1020.2 427.5,1019.5 C429.1,1018.8 433.1,1017.2 435.0,1015.0 C436.9,1012.8 440.6,1004.9 442.5,1002.5 C444.4,1000.1 448.4,996.6 450.0,996.2 C451.6,995.9 453.4,997.2 455.0,1000.0 C456.6,1002.8 460.9,1014.6 462.5,1017.5 C464.1,1020.4 465.9,1020.4 467.5,1022.5 C469.1,1024.6 473.4,1032.0 475.0,1033.8 C476.6,1035.5 478.7,1036.1 480.0,1036.2 C481.3,1036.4 483.4,1034.5 485.0,1035.0 C486.6,1035.5 490.1,1040.9 492.0,1040.0 C493.9,1039.1 497.7,1030.8 500.0,1028.0 C502.3,1025.2 507.8,1020.5 510.0,1018.8 C512.2,1017.0 515.0,1014.4 517.0,1014.5 C519.0,1014.6 522.7,1019.9 525.0,1019.5 C527.3,1019.1 532.7,1013.8 535.0,1011.2 C537.3,1008.7 540.5,1003.5 542.5,1000.0 C544.5,996.5 548.2,986.3 550.0,984.5 C551.8,982.7 554.6,987.6 556.2,986.2 C557.9,984.9 560.7,976.7 562.5,973.8 C564.3,970.8 567.7,965.5 570.0,963.8 C572.3,962.0 577.7,960.0 580.0,960.0 C582.3,960.0 585.9,963.5 587.5,963.8 C589.1,964.0 590.5,962.3 592.5,962.0 C594.5,961.7 599.9,963.5 602.5,961.2 C605.1,959.0 609.9,945.8 612.5,944.5 C615.1,943.2 619.9,951.2 622.5,951.2 C625.1,951.2 630.2,946.6 632.5,944.5 C634.8,942.4 638.2,937.9 640.0,935.0 C641.8,932.1 644.5,921.9 646.2,922.5 C648.0,923.1 651.5,937.5 653.8,939.5 C656.0,941.5 661.3,941.3 663.8,938.2 C666.2,935.2 670.7,919.5 672.5,916.2 C674.3,913.0 675.7,910.6 677.5,913.0 C679.3,915.4 683.8,933.8 686.2,935.0 C688.7,936.2 693.8,926.3 696.2,922.5 C698.7,918.7 703.2,905.8 705.0,905.5 C706.8,905.2 708.1,909.3 710.0,920.0 C711.9,930.7 717.2,982.6 719.5,987.5 C721.8,992.4 725.2,966.0 727.5,957.5 C729.8,949.0 735.4,928.5 737.5,922.5 C739.6,916.5 742.0,912.5 743.8,911.2 C745.5,910.0 749.1,914.8 751.2,912.5 C753.4,910.2 758.2,896.4 760.0,893.8 C761.8,891.1 763.5,894.1 765.0,892.5 C766.5,890.9 770.0,882.2 771.2,881.2 C772.5,880.3 773.9,883.5 775.0,885.0 C776.1,886.5 778.9,890.9 780.0,892.5 C781.1,894.1 782.8,897.3 783.8,897.5 C784.7,897.7 786.0,894.4 787.0,893.8 C788.0,893.1 790.2,892.3 791.2,892.5 C792.3,892.7 793.9,895.7 795.0,895.5 C796.1,895.3 798.9,892.9 800.0,891.2 C801.1,889.6 802.8,883.0 803.8,882.5 C804.7,882.0 806.5,885.1 807.5,887.5 C808.5,889.9 810.2,898.3 811.2,901.2 C812.3,904.2 814.4,910.3 815.5,910.5 C816.6,910.7 818.8,904.5 820.0,902.5 C821.2,900.5 823.2,896.5 824.5,895.0 C825.8,893.5 828.6,892.1 830.0,891.2 C831.4,890.4 833.8,889.2 835.0,888.8 C836.2,888.3 838.4,886.4 839.5,887.5 C840.6,888.6 842.5,895.0 843.8,897.5 C845.0,900.0 847.5,906.3 848.8,907.0 C850.0,907.7 852.6,904.8 853.8,903.0 C854.9,901.2 856.4,895.0 857.5,893.0 C858.6,891.0 861.2,889.2 862.5,887.5 C863.8,885.8 866.2,880.8 867.5,880.0 C868.8,879.2 871.0,880.3 872.5,881.2 C874.0,882.2 877.1,886.8 878.8,887.0 C880.4,887.2 883.0,885.1 885.0,882.5 C887.0,879.9 891.8,870.0 893.8,867.0 C895.7,864.0 898.7,860.7 900.0,859.5 C901.3,858.3 902.1,855.5 903.8,857.5 C905.4,859.5 910.7,873.4 912.5,875.0 C914.3,876.6 916.4,871.5 917.5,870.0 C918.6,868.5 920.0,864.0 921.2,863.2 C922.5,862.5 925.8,865.1 927.5,864.5 C929.2,863.9 932.6,858.0 934.2,858.8 C935.9,859.5 938.4,867.6 940.0,870.0 C941.6,872.4 945.0,876.6 946.2,877.5 C947.5,878.4 948.9,877.4 950.0,877.0 C951.1,876.6 953.7,877.0 955.0,874.5 C956.3,872.0 958.7,861.7 960.0,857.5 C961.3,853.3 963.7,845.4 965.0,842.5 C966.3,839.6 968.5,836.0 970.0,835.5 C971.5,835.0 974.0,840.3 976.2,838.8 C978.5,837.2 985.1,828.5 987.5,823.8 C989.9,819.0 993.4,806.7 995.0,802.5 C996.6,798.3 998.7,793.1 1000.0,791.2 C1001.3,789.4 1003.8,787.7 1005.0,788.0 C1006.2,788.3 1008.0,794.1 1009.2,793.8 C1010.5,793.4 1013.6,787.9 1015.0,785.0 C1016.4,782.1 1018.9,774.0 1020.0,771.2 C1021.1,768.5 1022.8,766.0 1023.8,763.8 C1024.7,761.5 1026.6,755.4 1027.5,753.8 C1028.4,752.1 1029.7,749.8 1030.5,751.2 C1031.3,752.7 1032.8,759.3 1033.8,765.0 C1034.7,770.7 1036.4,787.9 1037.5,795.0 C1038.6,802.1 1041.4,816.2 1042.5,819.2 C1043.6,822.3 1045.1,819.8 1046.2,818.8 C1047.4,817.7 1049.5,815.0 1051.2,811.2 C1053.0,807.5 1058.4,793.8 1060.0,790.0 C1061.6,786.2 1062.6,781.7 1063.8,782.0 C1064.9,782.3 1067.4,789.0 1068.8,792.5 C1070.1,796.0 1072.8,807.0 1074.2,808.8 C1075.7,810.5 1078.6,806.8 1080.0,806.2 C1081.4,805.7 1083.7,806.9 1085.0,804.5 C1086.3,802.1 1088.7,792.6 1090.0,787.5 C1091.3,782.4 1094.0,768.6 1095.0,765.0 C1096.0,761.4 1096.7,760.2 1097.5,760.0 C1098.3,759.8 1100.5,763.9 1101.2,763.8 C1102.0,763.6 1102.4,759.6 1103.0,758.8 C1103.6,757.9 1104.6,759.9 1105.5,757.5 C1106.4,755.1 1108.8,745.2 1110.0,740.0 C1111.2,734.8 1113.5,722.7 1115.0,717.5 C1116.5,712.3 1120.0,703.6 1121.2,700.0 C1122.5,696.4 1124.0,692.3 1125.0,690.0 C1126.0,687.7 1127.6,684.0 1128.8,682.5 C1129.9,681.0 1132.5,678.4 1133.8,678.8 C1135.0,679.1 1136.9,685.1 1138.0,685.0 C1139.1,684.9 1141.4,679.5 1142.5,678.0 C1143.6,676.5 1145.8,671.9 1146.8,673.8 C1147.7,675.6 1148.9,686.5 1150.0,692.5 C1151.1,698.5 1153.7,714.5 1155.0,720.0 C1156.3,725.5 1158.7,729.8 1160.0,735.0 C1161.3,740.2 1163.5,752.6 1165.0,760.0 C1166.5,767.4 1170.0,788.9 1171.2,792.0 C1172.5,795.1 1173.9,786.6 1175.0,783.8 C1176.1,780.9 1178.7,772.8 1180.0,770.0 C1181.3,767.2 1183.7,764.8 1185.0,762.5 C1186.3,760.2 1188.9,756.4 1190.0,752.5 C1191.1,748.6 1192.8,736.7 1193.8,732.5 C1194.7,728.3 1195.8,719.7 1197.0,720.0 C1198.2,720.3 1201.6,732.7 1203.0,734.5 C1204.4,736.3 1206.4,735.6 1207.5,733.8 C1208.6,731.9 1210.3,722.4 1211.2,720.0 C1212.2,717.6 1213.9,717.9 1215.0,715.0 C1216.1,712.1 1219.0,701.4 1220.0,697.5 C1221.0,693.6 1221.7,686.8 1222.5,685.0 C1223.3,683.2 1225.3,682.5 1226.2,683.8 C1227.2,685.0 1229.2,693.0 1230.0,695.0 C1230.8,697.0 1231.8,697.5 1232.5,698.8 C1233.2,700.0 1234.3,704.7 1235.0,705.0 C1235.7,705.3 1236.7,705.1 1237.5,701.2 C1238.3,697.4 1240.3,682.0 1241.2,675.0 C1242.2,668.0 1244.0,653.0 1245.0,647.5 C1246.0,642.0 1247.9,636.6 1248.8,632.5 C1249.6,628.4 1250.9,618.4 1251.2,616.2 L1251.2,1106.5 L120.8,1106.5 Z" fill="#7eac3e"/>
<line x1="122" x2="1248.5" y1="982.2" y2="982.2" stroke="#000" stroke-width="1.25" stroke-dasharray="5.9,4.1" stroke-opacity="0.10"/>
<line x1="122" x2="1248.5" y1="857.9" y2="857.9" stroke="#000" stroke-width="1.25" stroke-dasharray="5.9,4.1" stroke-opacity="0.10"/>
<line x1="122" x2="1248.5" y1="733.6" y2="733.6" stroke="#000" stroke-width="1.25" stroke-dasharray="5.9,4.1" stroke-opacity="0.10"/>
<line x1="122" x2="1248.5" y1="609.3" y2="609.3" stroke="#000" stroke-width="1.25" stroke-dasharray="5.9,4.1" stroke-opacity="0.10"/>
<line x1="122" x2="1248.5" y1="485.0" y2="485.0" stroke="#000" stroke-width="1.25" stroke-dasharray="5.9,4.1" stroke-opacity="0.10"/>
<line x1="122" x2="1248.5" y1="360.7" y2="360.7" stroke="#000" stroke-width="1.25" stroke-dasharray="5.9,4.1" stroke-opacity="0.10"/>
<line x1="122" x2="1248.5" y1="236.4" y2="236.4" stroke="#000" stroke-width="1.25" stroke-dasharray="5.9,4.1" stroke-opacity="0.10"/>
<text class="la" x="91" y="1120.9" font-size="36.3" text-anchor="end">0</text>
<text class="la" x="91" y="996.6" font-size="36.3" text-anchor="end">10</text>
<text class="la" x="91" y="872.3" font-size="36.3" text-anchor="end">20</text>
<text class="la" x="91" y="748.0" font-size="36.3" text-anchor="end">30</text>
<text class="la" x="91" y="623.7" font-size="36.3" text-anchor="end">40</text>
<text class="la" x="91" y="499.4" font-size="36.3" text-anchor="end">50</text>
<text class="la" x="91" y="375.1" font-size="36.3" text-anchor="end">60</text>
<text class="la" x="91" y="250.8" font-size="36.3" text-anchor="end">70</text>
<line x1="120.7" x2="1251.9" y1="1107" y2="1107" stroke="#000" stroke-width="4"/>
<line x1="122.5" x2="122.5" y1="1096" y2="1107" stroke="#000" stroke-width="3.9"/>
<text class="la" x="121.7" y="1165" font-size="35.5" text-anchor="middle">Aug-90</text>
<line x1="283.8" x2="283.8" y1="1096" y2="1107" stroke="#000" stroke-width="3.9"/>
<text class="la" x="283.0" y="1165" font-size="35.5" text-anchor="middle">Aug-95</text>
<line x1="445.1" x2="445.1" y1="1096" y2="1107" stroke="#000" stroke-width="3.9"/>
<text class="la" x="444.3" y="1165" font-size="35.5" text-anchor="middle">Aug-00</text>
<line x1="606.4" x2="606.4" y1="1096" y2="1107" stroke="#000" stroke-width="3.9"/>
<text class="la" x="605.6" y="1165" font-size="35.5" text-anchor="middle">Aug-05</text>
<line x1="767.8" x2="767.8" y1="1096" y2="1107" stroke="#000" stroke-width="3.9"/>
<text class="la" x="767.0" y="1165" font-size="35.5" text-anchor="middle">Aug-10</text>
<line x1="929.1" x2="929.1" y1="1096" y2="1107" stroke="#000" stroke-width="3.9"/>
<text class="la" x="928.3" y="1165" font-size="35.5" text-anchor="middle">Aug-15</text>
<line x1="1090.4" x2="1090.4" y1="1096" y2="1107" stroke="#000" stroke-width="3.9"/>
<text class="la" x="1089.6" y="1165" font-size="35.5" text-anchor="middle">Aug-20</text>
<line x1="1251.8" x2="1251.8" y1="1096" y2="1107" stroke="#000" stroke-width="3.9"/>
<text class="la" x="1251.0" y="1165" font-size="35.5" text-anchor="middle">Aug-25</text>
<rect x="344.2" y="1209" width="18.5" height="18" fill="#7eac3e"/>
<text class="lg" x="370" y="1232" font-size="33" textLength="166" lengthAdjust="spacingAndGlyphs">Asia-Pacific</text>
<rect x="579.3" y="1209" width="18.5" height="18" fill="#55ace6"/>
<text class="lg" x="605" y="1232" font-size="33" textLength="130" lengthAdjust="spacingAndGlyphs">Americas</text>
<rect x="777.3" y="1209" width="18.5" height="18" fill="#233e7c"/>
<text class="lg" x="803" y="1232" font-size="33" textLength="236" lengthAdjust="spacingAndGlyphs">Rest of the World</text>
</g>
<g id="right-chart">
<text class="t" x="2069.5" y="138" font-size="61" text-anchor="middle" textLength="297" lengthAdjust="spacingAndGlyphs">Metal Prices</text>
<text class="t t2" x="2069" y="192.2" font-size="37.5" text-anchor="middle" textLength="398" lengthAdjust="spacingAndGlyphs">(%, year-to-date change)</text>
<line x1="1649" x2="1702.5" y1="243.8" y2="243.8" stroke="#f5c445" stroke-width="5.8" stroke-linecap="round"/>
<text class="lg" x="1710" y="254.6" font-size="28" textLength="51" lengthAdjust="spacingAndGlyphs">Gold</text>
<line x1="1795" x2="1847.5" y1="243.8" y2="243.8" stroke="#6b6b6b" stroke-width="5.8" stroke-linecap="round"/>
<text class="lg" x="1855" y="254.6" font-size="28" textLength="64.5" lengthAdjust="spacingAndGlyphs">Silver</text>
<line x1="1954" x2="2008.0" y1="243.8" y2="243.8" stroke="#8c574a" stroke-width="5.8" stroke-linecap="round"/>
<text class="lg" x="2014" y="254.6" font-size="28" textLength="82" lengthAdjust="spacingAndGlyphs">Copper</text>
<line x1="2129" x2="2182.5" y1="243.8" y2="243.8" stroke="#0d0d0d" stroke-width="5.8" stroke-linecap="round"/>
<text class="lg" x="2190" y="254.6" font-size="28" textLength="102" lengthAdjust="spacingAndGlyphs">Platinum</text>
<line x1="2326" x2="2379.0" y1="243.8" y2="243.8" stroke="#82a8cc" stroke-width="5.8" stroke-linecap="round"/>
<text class="lg" x="2386" y="254.6" font-size="28" textLength="113" lengthAdjust="spacingAndGlyphs">Palladium</text>
<line x1="1504.7" x2="2668" y1="1097.2" y2="1097.2" stroke="#bdbdbd" stroke-width="1.6" stroke-dasharray="5.95,4.1"/>
<line x1="1504.7" x2="2668" y1="997.6" y2="997.6" stroke="#bdbdbd" stroke-width="1.6" stroke-dasharray="5.95,4.1"/>
<line x1="1504.7" x2="2668" y1="897.9" y2="897.9" stroke="#bdbdbd" stroke-width="1.6" stroke-dasharray="5.95,4.1"/>
<line x1="1504.7" x2="2668" y1="798.3" y2="798.3" stroke="#bdbdbd" stroke-width="1.6" stroke-dasharray="5.95,4.1"/>
<line x1="1504.7" x2="2668" y1="698.7" y2="698.7" stroke="#bdbdbd" stroke-width="1.6" stroke-dasharray="5.95,4.1"/>
<line x1="1504.7" x2="2668" y1="599.1" y2="599.1" stroke="#bdbdbd" stroke-width="1.6" stroke-dasharray="5.95,4.1"/>
<line x1="1504.7" x2="2668" y1="499.5" y2="499.5" stroke="#bdbdbd" stroke-width="1.6" stroke-dasharray="5.95,4.1"/>
<line x1="1504.7" x2="2668" y1="399.8" y2="399.8" stroke="#bdbdbd" stroke-width="1.6" stroke-dasharray="5.95,4.1"/>
<line x1="1504.7" x2="2668" y1="300.2" y2="300.2" stroke="#bdbdbd" stroke-width="1.6" stroke-dasharray="5.95,4.1"/>
<text class="ra" x="1478.5" y="1208.7" font-size="30" text-anchor="end">0</text>
<text class="ra" x="1478.5" y="1109.1" font-size="30" text-anchor="end">10</text>
<text class="ra" x="1478.5" y="1009.5" font-size="30" text-anchor="end">20</text>
<text class="ra" x="1478.5" y="909.8" font-size="30" text-anchor="end">30</text>
<text class="ra" x="1478.5" y="810.2" font-size="30" text-anchor="end">40</text>
<text class="ra" x="1478.5" y="710.6" font-size="30" text-anchor="end">50</text>
<text class="ra" x="1478.5" y="611.0" font-size="30" text-anchor="end">60</text>
<text class="ra" x="1478.5" y="511.4" font-size="30" text-anchor="end">70</text>
<text class="ra" x="1478.5" y="411.7" font-size="30" text-anchor="end">80</text>
<text class="ra" x="1478.5" y="312.1" font-size="30" text-anchor="end">90</text>
<line x1="1502.5" x2="2668.1" y1="1196.7" y2="1196.7" stroke="#000" stroke-width="4.2"/>
<line x1="1504.2" x2="1504.2" y1="1187.4" y2="1196.7" stroke="#000" stroke-width="3.8"/>
<text class="ra" x="1505.3" y="1245.2" font-size="30" text-anchor="middle" textLength="133" lengthAdjust="spacingAndGlyphs">02-Jan-25</text>
<line x1="1877" x2="1877" y1="1187.4" y2="1196.7" stroke="#000" stroke-width="3.8"/>
<text class="ra" x="1879" y="1245.2" font-size="30" text-anchor="middle" textLength="133.5" lengthAdjust="spacingAndGlyphs">02-Apr-25</text>
<line x1="2253.8" x2="2253.8" y1="1187.4" y2="1196.7" stroke="#000" stroke-width="3.8"/>
<text class="ra" x="2255.7" y="1245.2" font-size="30" text-anchor="middle" textLength="125" lengthAdjust="spacingAndGlyphs">02-Jul-25</text>
<line x1="2635" x2="2635" y1="1187.4" y2="1196.7" stroke="#000" stroke-width="3.8"/>
<text class="ra" x="2636.9" y="1245.2" font-size="30" text-anchor="middle" textLength="135.6" lengthAdjust="spacingAndGlyphs">02-Oct-25</text>
<clipPath id="cplot"><rect x="1505.3" y="250" width="1200" height="948.8"/></clipPath>
<g clip-path="url(#cplot)">
<path d="M1505.5,1196.2 L1515.0,1194.5 L1527.5,1195.0 L1540.0,1183.8 L1548.8,1183.8 L1556.2,1187.5 L1565.0,1173.8 L1581.2,1172.5 L1590.0,1150.0 L1600.0,1150.0 L1610.0,1150.0 L1615.0,1157.5 L1625.0,1141.2 L1640.0,1140.0 L1652.5,1113.8 L1665.0,1112.5 L1671.2,1098.8 L1697.5,1098.8 L1707.5,1080.0 L1715.0,1088.8 L1730.0,1085.0 L1745.0,1113.8 L1752.5,1112.5 L1758.8,1097.5 L1765.0,1093.8 L1772.5,1097.5 L1785.0,1097.5 L1793.8,1092.5 L1800.0,1065.0 L1810.0,1062.5 L1817.5,1055.0 L1827.5,1051.2 L1840.0,1050.0 L1850.0,1050.0 L1857.5,1036.2 L1865.0,1022.5 L1873.8,1013.8 L1878.8,1016.2 L1883.8,1015.0 L1888.8,1028.8 L1902.5,1061.2 L1907.5,1047.5 L1912.5,1015.0 L1916.2,981.2 L1925.0,980.0 L1932.5,977.5 L1936.2,947.5 L1962.0,891.2 L1965.5,937.5 L1970.0,938.8 L1975.0,950.0 L1986.2,957.5 L1990.0,943.8 L1993.8,953.8 L1998.8,977.5 L2005.0,960.0 L2020.0,920.0 L2023.8,920.0 L2028.8,933.8 L2032.5,940.0 L2043.8,978.8 L2048.8,966.2 L2052.5,975.0 L2057.0,997.5 L2061.2,982.5 L2072.5,973.8 L2078.8,972.5 L2081.2,946.2 L2086.2,946.2 L2090.0,938.8 L2107.5,951.2 L2110.0,942.5 L2115.0,957.5 L2133.5,930.0 L2135.0,926.2 L2141.2,922.5 L2145.0,917.5 L2148.8,927.5 L2160.0,943.8 L2168.8,932.5 L2173.0,922.5 L2177.5,905.0 L2186.2,906.2 L2192.5,920.0 L2198.8,918.8 L2207.5,926.2 L2219.5,924.2 L2223.8,941.2 L2230.0,933.8 L2236.2,948.8 L2247.5,950.0 L2251.2,935.0 L2260.0,931.2 L2280.0,945.0 L2285.0,948.8 L2293.8,937.5 L2306.2,925.0 L2312.5,928.8 L2318.8,938.8 L2323.8,931.2 L2335.0,926.2 L2342.5,900.0 L2347.5,927.5 L2352.5,931.2 L2362.5,935.0 L2368.8,941.2 L2382.5,943.8 L2391.2,926.2 L2410.0,913.8 L2425.0,928.8 L2430.0,925.0 L2440.0,931.2 L2451.2,931.2 L2458.8,940.0 L2466.2,938.8 L2497.5,912.5 L2512.0,882.5 L2516.2,861.2 L2525.0,855.0 L2537.5,832.5 L2542.0,816.2 L2550.0,830.0 L2555.0,820.0 L2566.2,822.5 L2571.2,801.2 L2575.0,810.0 L2583.0,815.0 L2596.2,790.0 L2599.5,765.0 L2611.2,781.2 L2625.0,756.2 L2628.8,757.5 L2632.5,728.8 L2641.2,738.8 L2655.5,707.5 L2660.0,673.8 L2665.5,670.8" fill="none" stroke="#f5c445" stroke-width="5.5" stroke-linejoin="round" stroke-linecap="round"/>
<path d="M1505.5,1196.2 L1510.0,1175.0 L1520.0,1167.5 L1527.5,1167.5 L1540.0,1165.0 L1556.2,1185.0 L1562.5,1170.0 L1565.0,1155.0 L1570.0,1160.0 L1581.2,1157.5 L1585.0,1168.8 L1592.5,1160.0 L1597.5,1150.0 L1615.0,1165.0 L1626.2,1121.2 L1640.0,1130.0 L1650.0,1100.0 L1668.8,1100.0 L1673.8,1117.5 L1683.8,1092.5 L1690.0,1080.0 L1697.5,1093.8 L1702.5,1093.8 L1708.8,1072.5 L1726.2,1091.2 L1731.2,1107.5 L1743.8,1136.2 L1755.0,1122.5 L1762.5,1117.5 L1767.5,1090.0 L1772.5,1092.5 L1785.0,1092.5 L1793.8,1082.5 L1800.0,1043.8 L1813.8,1047.5 L1817.5,1037.5 L1822.5,1043.8 L1827.5,1067.5 L1842.5,1072.5 L1857.5,1027.5 L1878.8,1045.0 L1882.5,1080.0 L1887.5,1130.0 L1900.0,1165.0 L1906.2,1170.0 L1912.5,1140.0 L1927.5,1100.0 L1932.5,1098.8 L1937.0,1076.2 L1941.2,1097.5 L1962.5,1087.5 L1970.0,1060.0 L1986.2,1072.5 L1990.0,1066.2 L1998.8,1103.8 L2020.0,1073.8 L2025.0,1078.8 L2028.8,1092.5 L2032.5,1091.2 L2043.8,1107.5 L2048.8,1076.2 L2053.8,1080.0 L2057.5,1102.5 L2065.0,1097.5 L2075.0,1090.0 L2080.0,1082.5 L2086.2,1072.5 L2090.0,1071.2 L2107.5,1077.5 L2110.0,1066.2 L2115.0,1062.5 L2120.0,1071.2 L2133.5,1067.5 L2137.5,1030.0 L2142.5,1028.8 L2146.2,968.8 L2148.8,966.2 L2160.0,965.0 L2164.5,946.2 L2168.8,966.2 L2173.0,967.5 L2177.5,971.2 L2190.0,960.0 L2193.0,937.5 L2197.5,933.8 L2201.8,960.0 L2207.5,967.5 L2219.5,967.5 L2227.5,981.2 L2230.5,952.5 L2236.2,972.5 L2250.0,973.8 L2256.2,975.0 L2263.8,938.8 L2276.2,966.2 L2281.2,948.8 L2285.0,952.5 L2290.0,948.8 L2293.8,926.2 L2305.5,870.0 L2311.2,901.2 L2318.8,913.8 L2322.5,896.2 L2335.0,890.0 L2342.5,860.0 L2352.0,878.8 L2363.8,901.2 L2368.8,902.5 L2372.5,908.8 L2376.2,965.0 L2398.8,923.8 L2403.8,892.5 L2409.5,895.0 L2425.0,916.2 L2430.0,885.0 L2435.0,897.5 L2438.8,915.0 L2451.2,902.5 L2455.0,902.5 L2458.8,937.5 L2466.2,905.0 L2482.5,891.2 L2487.5,897.5 L2492.0,873.8 L2496.2,875.0 L2508.0,818.8 L2512.5,818.8 L2516.2,808.8 L2520.5,805.0 L2525.0,812.5 L2537.5,798.8 L2542.5,796.2 L2550.0,801.2 L2554.5,762.5 L2566.2,763.8 L2570.5,746.8 L2575.0,796.2 L2583.8,765.0 L2599.5,691.2 L2603.8,706.2 L2607.5,671.2 L2612.5,668.8 L2618.8,640.0 L2623.8,601.2 L2628.0,628.8 L2632.5,590.0 L2637.5,586.2 L2641.2,578.8 L2652.5,547.5 L2658.8,552.5 L2662.5,535.0 L2665.5,508.8" fill="none" stroke="#6b6b6b" stroke-width="5.5" stroke-linejoin="round" stroke-linecap="round"/>
<path d="M1505.5,1196.2 L1512.5,1180.0 L1522.5,1172.5 L1530.0,1170.0 L1540.0,1162.5 L1555.0,1160.0 L1565.0,1152.5 L1580.0,1142.5 L1587.5,1146.2 L1597.5,1142.5 L1607.5,1157.5 L1615.0,1177.5 L1622.5,1160.0 L1626.2,1170.0 L1640.0,1163.8 L1650.0,1145.0 L1656.2,1128.8 L1667.5,1122.5 L1672.5,1133.8 L1681.2,1090.0 L1685.0,1067.5 L1690.0,1097.5 L1696.2,1123.8 L1702.5,1112.5 L1708.8,1100.0 L1725.0,1105.0 L1731.2,1120.0 L1736.2,1111.2 L1743.8,1121.2 L1755.0,1116.2 L1758.8,1123.8 L1762.5,1100.0 L1766.2,1087.5 L1771.2,1085.0 L1783.8,1093.8 L1792.5,1072.5 L1796.2,1078.8 L1801.2,1072.5 L1813.8,1067.5 L1822.5,1056.2 L1830.0,1067.5 L1841.2,1048.8 L1846.2,1047.5 L1852.5,1070.0 L1857.5,1070.0 L1872.5,1085.0 L1878.8,1087.5 L1885.0,1162.5 L1887.5,1180.0 L1900.0,1183.8 L1905.0,1196.2 L1912.5,1175.0 L1917.5,1140.0 L1930.0,1136.2 L1936.2,1152.5 L1942.5,1150.0 L1960.0,1130.0 L1965.0,1113.8 L1968.8,1112.5 L1975.0,1120.0 L1987.5,1120.0 L1991.2,1106.2 L1997.5,1137.5 L2005.0,1137.5 L2020.0,1103.8 L2027.5,1107.5 L2040.0,1095.0 L2052.5,1087.5 L2058.8,1100.0 L2072.5,1098.8 L2077.5,1097.5 L2086.2,1103.8 L2095.0,1092.5 L2110.0,1083.8 L2117.5,1088.8 L2133.5,1085.0 L2137.5,1086.2 L2145.0,1083.8 L2148.8,1071.2 L2157.5,1065.0 L2164.5,1063.8 L2168.8,1077.5 L2173.0,1072.5 L2177.5,1085.5 L2190.0,1076.2 L2196.2,1060.0 L2201.8,1078.8 L2206.2,1053.8 L2213.8,1046.2 L2219.5,1043.2 L2227.0,1068.8 L2230.5,1033.8 L2235.0,1041.2 L2247.5,1042.5 L2251.2,1039.5 L2256.2,1041.2 L2260.0,1032.5 L2263.8,1050.0 L2275.0,1058.0 L2280.5,1055.5 L2284.5,1088.8 L2288.8,1075.0 L2292.5,1086.2 L2306.2,1098.0 L2315.0,1097.0 L2318.8,1093.8 L2322.5,1085.0 L2333.8,1072.5 L2342.5,1062.0 L2347.5,1062.0 L2352.0,1071.2 L2363.8,1071.2 L2373.8,1081.2 L2380.0,1100.0 L2392.5,1090.0 L2396.8,1095.8 L2405.0,1088.0 L2410.0,1088.8 L2425.0,1085.5 L2430.0,1074.5 L2435.0,1086.2 L2438.8,1089.2 L2452.5,1088.8 L2458.8,1095.8 L2466.2,1087.5 L2482.5,1080.0 L2487.5,1083.0 L2492.0,1080.0 L2496.2,1068.0 L2508.8,1068.0 L2512.0,1072.5 L2516.2,1061.2 L2520.5,1068.8 L2524.2,1060.0 L2537.5,1068.8 L2545.0,1063.8 L2553.8,1046.2 L2565.5,1048.2 L2570.5,1038.2 L2575.0,1059.2 L2595.0,1055.5 L2603.8,1063.0 L2607.5,1010.0 L2612.0,1032.5 L2622.5,1022.0 L2628.0,1012.5 L2632.5,1016.2 L2636.2,996.2 L2641.2,985.0 L2655.0,975.0 L2660.0,966.2 L2665.5,946.2" fill="none" stroke="#8c574a" stroke-width="5.5" stroke-linejoin="round" stroke-linecap="round"/>
<path d="M1505.5,1196.2 L1510.0,1171.2 L1522.5,1156.2 L1527.5,1158.8 L1531.2,1148.8 L1535.0,1143.8 L1540.0,1133.8 L1555.0,1142.5 L1558.8,1147.5 L1561.2,1161.2 L1565.0,1162.5 L1577.5,1165.0 L1585.0,1168.8 L1590.0,1160.0 L1596.2,1150.0 L1610.0,1156.2 L1617.5,1158.8 L1626.2,1122.5 L1640.0,1133.8 L1652.5,1102.5 L1656.2,1101.2 L1667.5,1113.8 L1673.8,1113.8 L1681.2,1093.8 L1685.0,1091.2 L1690.0,1102.5 L1697.5,1117.5 L1702.5,1115.0 L1707.5,1121.2 L1712.5,1131.2 L1728.8,1135.0 L1733.8,1127.5 L1738.8,1132.5 L1742.5,1158.8 L1753.8,1152.5 L1762.5,1127.5 L1766.2,1137.5 L1771.2,1125.0 L1785.0,1126.2 L1792.5,1115.0 L1796.2,1123.8 L1800.0,1107.5 L1813.8,1098.8 L1817.5,1086.2 L1821.2,1108.8 L1825.0,1108.8 L1828.8,1125.0 L1842.5,1122.5 L1850.0,1127.5 L1857.5,1113.8 L1870.0,1105.0 L1875.0,1106.2 L1878.8,1122.5 L1885.0,1140.0 L1890.0,1172.5 L1900.0,1187.5 L1906.2,1181.2 L1912.5,1160.0 L1927.5,1147.5 L1940.0,1137.5 L1961.2,1128.8 L1966.2,1133.8 L1970.0,1125.0 L1973.8,1137.5 L1986.2,1120.0 L1990.0,1107.5 L1996.2,1135.0 L2000.0,1136.2 L2005.0,1127.5 L2020.0,1118.8 L2023.8,1112.5 L2027.5,1118.8 L2031.2,1112.5 L2045.0,1113.8 L2052.5,1100.0 L2057.5,1122.5 L2061.2,1110.0 L2073.8,1103.8 L2081.2,1052.5 L2086.2,1018.8 L2090.0,1003.8 L2107.5,1013.8 L2111.2,1000.0 L2115.0,1013.8 L2120.0,1013.8 L2131.2,1042.5 L2132.5,1043.8 L2137.5,1036.2 L2141.2,987.5 L2146.2,925.0 L2150.0,905.0 L2160.0,873.8 L2165.5,868.8 L2168.8,811.2 L2173.0,810.0 L2177.0,797.5 L2190.0,828.8 L2194.5,822.5 L2198.8,787.5 L2202.0,777.0 L2206.2,780.0 L2219.5,773.8 L2222.5,753.8 L2227.5,756.2 L2230.5,660.0 L2235.0,698.0 L2247.5,708.0 L2252.0,736.2 L2256.2,711.2 L2260.0,646.2 L2263.8,686.2 L2276.2,702.5 L2280.5,691.2 L2285.0,712.5 L2290.0,707.5 L2293.8,708.8 L2306.2,660.0 L2310.0,683.8 L2314.5,686.2 L2320.0,591.2 L2322.5,590.0 L2333.8,607.5 L2338.8,610.0 L2343.8,608.8 L2347.0,676.2 L2352.0,665.0 L2363.8,653.8 L2368.0,675.0 L2372.5,675.0 L2376.2,735.0 L2380.5,811.2 L2392.5,750.0 L2397.5,750.0 L2401.2,741.2 L2405.0,740.0 L2409.5,733.0 L2422.5,751.2 L2426.2,730.0 L2430.0,720.0 L2435.0,720.5 L2438.8,704.5 L2451.2,732.5 L2454.5,720.0 L2458.8,755.5 L2466.2,725.0 L2482.5,728.8 L2487.5,722.5 L2492.0,715.0 L2496.2,719.5 L2508.0,666.2 L2512.0,671.2 L2520.5,653.8 L2525.0,677.5 L2537.5,662.5 L2542.5,672.5 L2550.0,681.2 L2555.0,675.0 L2567.5,663.8 L2570.5,652.5 L2575.0,686.2 L2578.8,672.5 L2583.8,673.8 L2590.0,648.8 L2596.2,632.5 L2600.0,617.5 L2603.0,587.5 L2607.5,547.5 L2611.2,507.5 L2623.8,436.2 L2628.0,505.0 L2632.5,448.8 L2637.5,470.0 L2652.5,430.0 L2658.8,426.2 L2661.2,386.2 L2665.5,372.5" fill="none" stroke="#0d0d0d" stroke-width="5.5" stroke-linejoin="round" stroke-linecap="round"/>
<path d="M1505.5,1196.2 L1510.0,1176.2 L1522.5,1181.2 L1527.5,1173.8 L1535.0,1177.5 L1540.0,1156.2 L1552.5,1162.5 L1557.5,1157.5 L1565.0,1141.2 L1568.8,1165.0 L1581.2,1157.5 L1585.0,1168.8 L1590.0,1130.0 L1597.5,1096.2 L1618.8,1147.5 L1622.5,1115.0 L1640.0,1081.2 L1643.8,1080.0 L1647.5,1100.0 L1652.5,1110.0 L1656.2,1107.5 L1675.0,1126.2 L1680.0,1110.0 L1685.0,1095.0 L1697.5,1115.0 L1701.2,1116.2 L1706.2,1110.0 L1712.5,1131.2 L1725.0,1140.0 L1730.0,1163.8 L1733.8,1165.0 L1742.5,1190.0 L1756.2,1170.0 L1763.8,1143.8 L1767.5,1170.0 L1771.2,1150.0 L1783.8,1145.0 L1788.8,1151.2 L1793.8,1147.5 L1796.2,1153.8 L1800.0,1133.8 L1817.5,1120.0 L1828.8,1157.5 L1842.5,1137.5 L1850.0,1146.2 L1857.5,1116.2 L1870.0,1120.0 L1875.0,1107.5 L1878.8,1112.5 L1885.0,1172.5 L1888.8,1176.2 L1902.5,1185.0 L1907.5,1196.2 L1912.5,1185.0 L1917.5,1185.0 L1930.0,1165.0 L1937.0,1130.0 L1940.0,1147.5 L1971.2,1161.2 L1987.5,1152.5 L1991.2,1155.0 L1995.0,1168.8 L1998.8,1157.5 L2003.8,1156.2 L2020.0,1148.8 L2023.8,1120.0 L2027.5,1141.2 L2031.2,1115.0 L2045.0,1127.5 L2048.8,1153.8 L2053.8,1140.0 L2057.5,1151.2 L2076.2,1131.2 L2080.0,1122.5 L2086.2,1077.5 L2107.5,1120.0 L2111.2,1118.8 L2115.0,1127.5 L2118.8,1131.2 L2133.5,1125.0 L2137.5,1102.5 L2142.5,1085.0 L2148.8,1075.0 L2160.0,1011.2 L2165.0,1033.8 L2168.8,1007.5 L2173.0,1030.0 L2177.5,1032.5 L2190.0,1050.0 L2193.0,1068.0 L2197.5,1038.8 L2201.8,1060.0 L2205.0,1040.0 L2221.2,1017.5 L2227.5,1027.5 L2232.0,967.5 L2235.0,955.0 L2247.5,933.8 L2251.2,967.5 L2256.2,981.2 L2260.0,937.5 L2263.8,946.2 L2276.2,975.0 L2281.2,967.5 L2285.0,1008.8 L2290.0,957.5 L2293.8,923.8 L2305.5,841.2 L2311.2,882.5 L2315.0,878.8 L2318.8,857.5 L2322.5,764.5 L2338.8,811.2 L2342.5,788.8 L2347.5,803.8 L2352.0,862.5 L2362.5,845.0 L2372.5,817.5 L2381.2,888.8 L2384.5,882.5 L2392.5,870.0 L2403.8,922.5 L2409.5,946.2 L2422.5,951.2 L2425.5,930.0 L2430.0,958.8 L2438.8,946.2 L2450.0,967.5 L2453.8,963.8 L2462.5,990.0 L2466.2,968.8 L2483.8,997.5 L2496.2,987.5 L2511.2,966.2 L2516.2,951.2 L2520.5,945.0 L2524.2,962.5 L2538.0,958.0 L2542.5,942.5 L2546.2,935.0 L2550.0,895.0 L2553.8,876.2 L2566.2,868.8 L2570.5,882.5 L2573.8,931.2 L2578.8,935.0 L2596.2,917.5 L2599.5,890.0 L2603.0,847.5 L2607.5,845.0 L2624.5,789.5 L2628.8,846.2 L2632.5,810.0 L2637.0,802.5 L2641.2,811.2 L2655.5,801.2 L2660.0,735.0 L2665.5,580.0" fill="none" stroke="#82a8cc" stroke-width="5.5" stroke-linejoin="round" stroke-linecap="round"/>
</g>
<text class="el" x="2681" y="386.2" font-size="31.5" fill="#0d0d0d" stroke="#0d0d0d" textLength="32" lengthAdjust="spacingAndGlyphs">83</text>
<text class="el" x="2681" y="522.2" font-size="31.5" fill="#6b6b6b" stroke="#6b6b6b" textLength="32" lengthAdjust="spacingAndGlyphs">69</text>
<text class="el" x="2681" y="593.7" font-size="31.5" fill="#82a8cc" stroke="#82a8cc" textLength="32" lengthAdjust="spacingAndGlyphs">62</text>
<text class="el" x="2681" y="682.2" font-size="31.5" fill="#f5c445" stroke="#f5c445" textLength="32" lengthAdjust="spacingAndGlyphs">53</text>
<text class="el" x="2681" y="961.2" font-size="31.5" fill="#8c574a" stroke="#8c574a" textLength="32" lengthAdjust="spacingAndGlyphs">25</text>
</g>
<text class="src" x="15" y="1290.3" font-size="27.3" textLength="1763" lengthAdjust="spacingAndGlyphs">Source: World Semiconductor Trade Statistics; London Bullion Market Association (LBMA); Business Insider Market Insider; APEC PSU staff calculations</text>
</svg></body></html>
